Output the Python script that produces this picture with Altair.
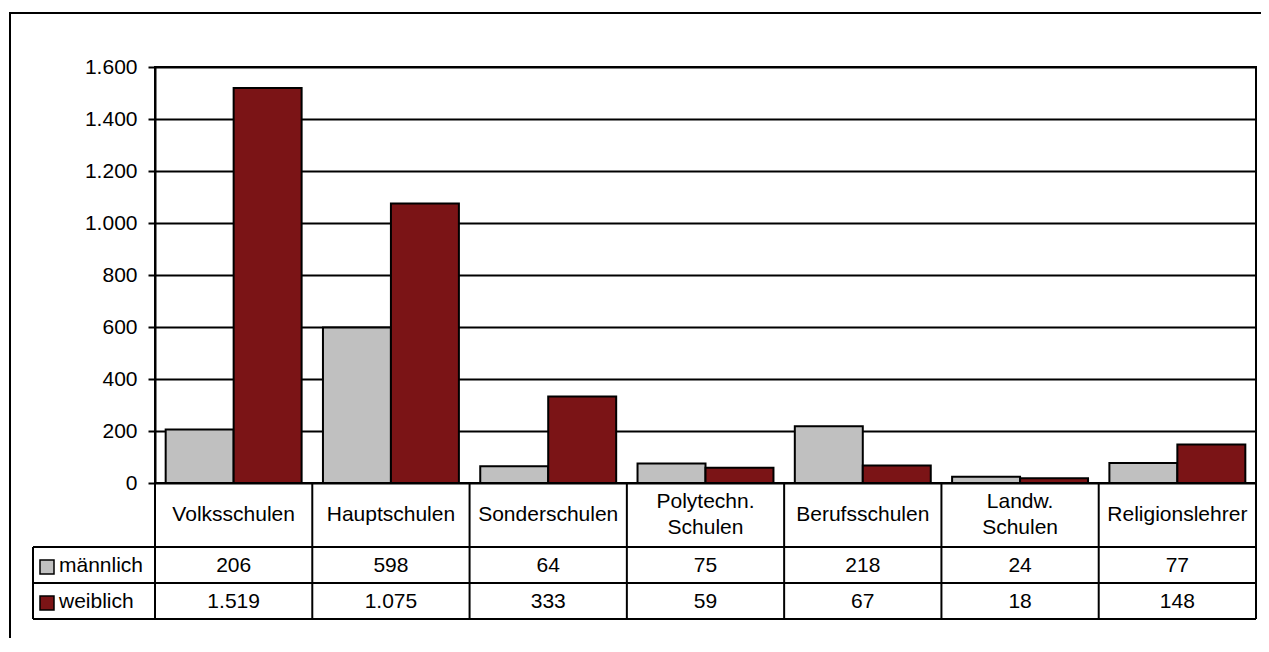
import altair as alt
import pandas as pd

categories = ["Volksschulen", "Hauptschulen", "Sonderschulen", "Polytechn. Schulen",
              "Berufsschulen", "Landw. Schulen", "Religionslehrer"]
cat_labels = ["Volksschulen", "Hauptschulen", "Sonderschulen", "Polytechn.\nSchulen",
              "Berufsschulen", "Landw.\nSchulen", "Religionslehrer"]
maennlich = [206, 598, 64, 75, 218, 24, 77]
weiblich = [1519, 1075, 333, 59, 67, 18, 148]
series = ["männlich", "weiblich"]
colors = ["#C0C0C0", "#7B1416"]
y_ticks = [0, 200, 400, 600, 800, 1000, 1200, 1400, 1600]

FONT = "Liberation Sans"
FS = 21
W, H = 1101, 416


def de(v):
    return f"{v:,}".replace(",", ".")


rows = []
for c, m, w in zip(categories, maennlich, weiblich):
    rows.append({"Kategorie": c, "Geschlecht": "männlich", "Wert": m, "Text": de(m)})
    rows.append({"Kategorie": c, "Geschlecht": "weiblich", "Wert": w, "Text": de(w)})
df = pd.DataFrame(rows)
cat_df = pd.DataFrame({"Kategorie": categories, "Label": cat_labels})
cat_df["Zeilen"] = cat_df["Label"].str.count("\n") + 1
leg_df = pd.DataFrame({"Geschlecht": series})
one = pd.DataFrame({"k": [0]})

xscale = alt.Scale(domain=categories, paddingInner=0, paddingOuter=0)
color_scale = alt.Scale(domain=series, range=colors)

bars = alt.Chart(df).mark_bar(stroke="black", strokeWidth=2).encode(
    x=alt.X("Kategorie:N", scale=xscale, axis=None, sort=categories),
    xOffset=alt.XOffset("Geschlecht:N", scale=alt.Scale(domain=series, paddingInner=0, paddingOuter=0.157)),
    y=alt.Y("Wert:Q", scale=alt.Scale(domain=[0, 1600], nice=False),
            axis=alt.Axis(values=y_ticks, title=None,
                          labelExpr="replace(format(datum.value, ','), ',', '.')",
                          grid=True, gridColor="black", gridWidth=2, gridOpacity=1,
                          domainColor="black", domainWidth=2,
                          tickColor="black", tickWidth=2, tickSize=7,
                          labelPadding=11, labelFont=FONT, labelFontSize=FS,
                          labelColor="black")),
    fill=alt.Fill("Geschlecht:N", scale=color_scale, legend=None),
)

# table vertical lines at category boundaries
vlines = alt.Chart(cat_df).mark_rule(color="black", strokeWidth=2).encode(
    x=alt.X("Kategorie:N", scale=xscale, axis=None, sort=categories, bandPosition=0),
    y=alt.value(H), y2=alt.value(552),
)
vright = alt.Chart(one).mark_rule(color="black", strokeWidth=2).encode(
    x=alt.value(W), y=alt.value(0), y2=alt.value(552))
vleft = alt.Chart(one).mark_rule(color="black", strokeWidth=2).encode(
    x=alt.value(-122), y=alt.value(480), y2=alt.value(552))
hl1 = alt.Chart(one).mark_rule(color="black", strokeWidth=2).encode(
    x=alt.value(-122), x2=alt.value(W), y=alt.value(480))
hl2 = alt.Chart(one).mark_rule(color="black", strokeWidth=2).encode(
    x=alt.value(-122), x2=alt.value(W), y=alt.value(516))
hl3 = alt.Chart(one).mark_rule(color="black", strokeWidth=2).encode(
    x=alt.value(-122), x2=alt.value(W), y=alt.value(552))

cat_text1 = alt.Chart(cat_df[cat_df.Zeilen == 1]).mark_text(
    font=FONT, fontSize=FS, color="black", baseline="middle").encode(
    x=alt.X("Kategorie:N", scale=xscale, axis=None, sort=categories),
    y=alt.value(448),
    text="Label:N",
)
cat_text2 = alt.Chart(cat_df[cat_df.Zeilen == 2]).mark_text(
    font=FONT, fontSize=FS, color="black", lineBreak="\n", lineHeight=26,
    baseline="middle").encode(
    x=alt.X("Kategorie:N", scale=xscale, axis=None, sort=categories),
    y=alt.value(435),
    text="Label:N",
)
m_text = alt.Chart(df[df.Geschlecht == "männlich"]).mark_text(
    font=FONT, fontSize=FS, color="black", baseline="middle").encode(
    x=alt.X("Kategorie:N", scale=xscale, axis=None, sort=categories),
    y=alt.value(499), text="Text:N")
w_text = alt.Chart(df[df.Geschlecht == "weiblich"]).mark_text(
    font=FONT, fontSize=FS, color="black", baseline="middle").encode(
    x=alt.X("Kategorie:N", scale=xscale, axis=None, sort=categories),
    y=alt.value(535), text="Text:N")

sw_m = alt.Chart(leg_df[leg_df.Geschlecht == "männlich"]).mark_rect(stroke="black", strokeWidth=1.5).encode(
    x=alt.value(-115), x2=alt.value(-101), y=alt.value(493), y2=alt.value(507),
    fill=alt.Fill("Geschlecht:N", scale=color_scale, legend=None))
sw_w = alt.Chart(leg_df[leg_df.Geschlecht == "weiblich"]).mark_rect(stroke="black", strokeWidth=1.5).encode(
    x=alt.value(-115), x2=alt.value(-101), y=alt.value(529), y2=alt.value(543),
    fill=alt.Fill("Geschlecht:N", scale=color_scale, legend=None))
lt_m = alt.Chart(leg_df[leg_df.Geschlecht == "männlich"]).mark_text(
    font=FONT, fontSize=FS, color="black", align="left", baseline="middle").encode(
    x=alt.value(-96), y=alt.value(499), text="Geschlecht:N")
lt_w = alt.Chart(leg_df[leg_df.Geschlecht == "weiblich"]).mark_text(
    font=FONT, fontSize=FS, color="black", align="left", baseline="middle").encode(
    x=alt.value(-96), y=alt.value(535), text="Geschlecht:N")

# outer chart frame (cut off at the right and bottom, as in the reference)
frame_t = alt.Chart(one).mark_rect(fill="black", strokeWidth=0).encode(
    x=alt.value(-146), x2=alt.value(W + 40), y=alt.value(-55), y2=alt.value(-53))
frame_l = alt.Chart(one).mark_rect(fill="black", strokeWidth=0).encode(
    x=alt.value(-146), x2=alt.value(-144), y=alt.value(-55), y2=alt.value(700))

chart = alt.layer(
    frame_t, frame_l, bars, vlines, vright, vleft, hl1, hl2, hl3,
    cat_text1, cat_text2, m_text, w_text, sw_m, sw_w, lt_m, lt_w
).properties(
    width=W, height=H,
    autosize=alt.AutoSizeParams(type="none"),
    padding={"left": 147, "top": 59, "right": 5, "bottom": 155},
    background="white",
).configure_view(stroke="black", strokeWidth=2)

chart.save("out.html", embed_options={"renderer": "svg", "actions": False})
